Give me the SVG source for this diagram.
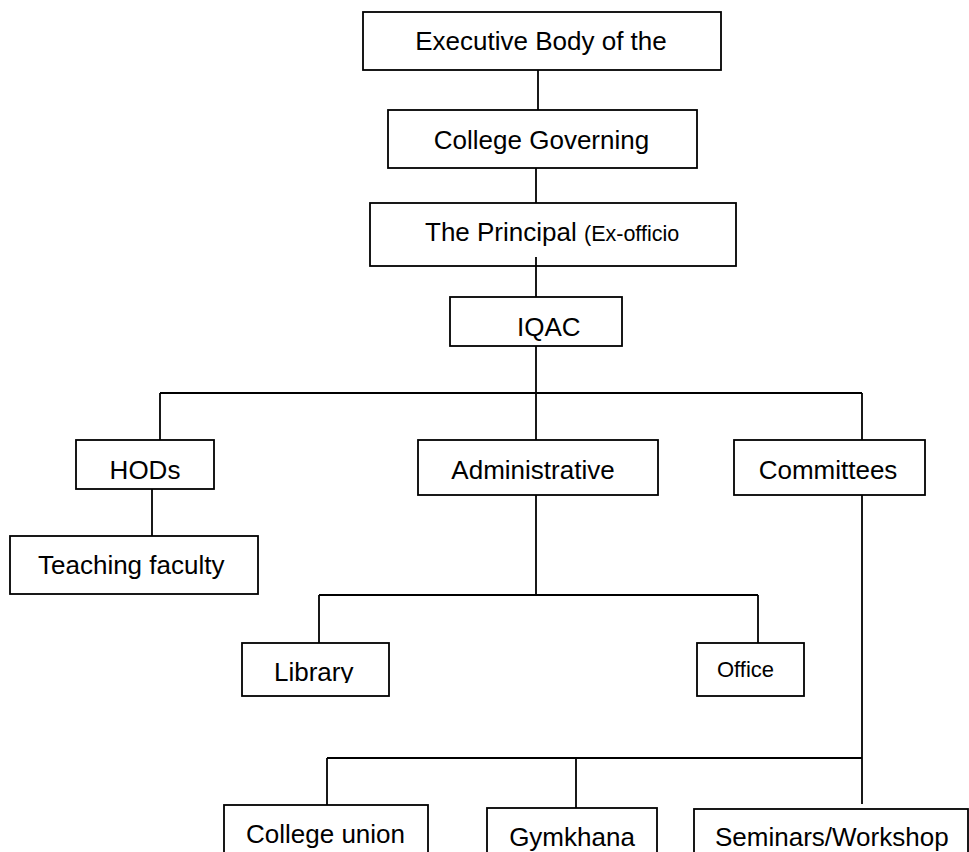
<svg xmlns="http://www.w3.org/2000/svg" width="969" height="852" viewBox="0 0 969 852">
<style>
.box{fill:#fff;stroke:#000;stroke-width:1.8}
.lbl{font-family:"Liberation Sans",Arial,sans-serif;font-size:26px;fill:#000}
.sm{font-size:21.5px}
.of{font-size:22px}
#connectors line{stroke:#000;stroke-width:1.8;fill:none}
</style>
<defs>
<clipPath id="clipLib"><rect x="242" y="643" width="147" height="40"/></clipPath>
</defs>
<rect width="969" height="852" fill="#fff"/>
<g id="connectors">
<line x1="538" y1="70" x2="538" y2="110"/>
<line x1="536" y1="168" x2="536" y2="203"/>
<line x1="536" y1="257" x2="536" y2="297"/>
<line x1="536" y1="346" x2="536" y2="440"/>
<line x1="160" y1="393" x2="862" y2="393"/>
<line x1="160" y1="393" x2="160" y2="440"/>
<line x1="862" y1="393" x2="862" y2="440"/>
<line x1="152" y1="489" x2="152" y2="536"/>
<line x1="536" y1="495" x2="536" y2="595"/>
<line x1="319" y1="595" x2="758" y2="595"/>
<line x1="319" y1="595" x2="319" y2="643"/>
<line x1="758" y1="595" x2="758" y2="643"/>
<line x1="862" y1="495" x2="862" y2="804"/>
<line x1="327" y1="758" x2="862" y2="758"/>
<line x1="327" y1="758" x2="327" y2="805"/>
<line x1="576" y1="758" x2="576" y2="808"/>
</g>
<g id="executive"><rect class="box" x="363" y="12" width="358" height="58"/><text class="lbl" x="541" y="50" text-anchor="middle">Executive Body of the</text></g>
<g id="governing"><rect class="box" x="388" y="110" width="309" height="58"/><text class="lbl" x="541.5" y="149" text-anchor="middle">College Governing</text></g>
<g id="principal"><rect class="box" x="370" y="203" width="366" height="63"/><text class="lbl" x="425" y="241">The Principal <tspan class="sm">(Ex-officio</tspan></text></g>
<line x1="536" y1="257" x2="536" y2="266" stroke="#000" stroke-width="1.8"/>
<g id="iqac"><rect class="box" x="450" y="297" width="172" height="49"/><text class="lbl" x="517" y="336">IQAC</text></g>
<g id="hods"><rect class="box" x="76" y="440" width="138" height="49"/><text class="lbl" x="145" y="479" text-anchor="middle">HODs</text></g>
<g id="teaching"><rect class="box" x="10" y="536" width="248" height="58"/><text class="lbl" x="38" y="574">Teaching faculty</text></g>
<g id="administrative"><rect class="box" x="418" y="440" width="240" height="55"/><text class="lbl" x="533" y="479" text-anchor="middle">Administrative</text></g>
<g id="committees"><rect class="box" x="734" y="440" width="191" height="55"/><text class="lbl" x="828" y="479" text-anchor="middle">Committees</text></g>
<g id="library"><rect class="box" x="242" y="643" width="147" height="53"/><text class="lbl" x="274" y="681" clip-path="url(#clipLib)">Library</text></g>
<g id="office"><rect class="box" x="697" y="643" width="107" height="53"/><text class="lbl of" x="717" y="677">Office</text></g>
<g id="college-union"><rect class="box" x="224" y="805" width="204" height="60"/><text class="lbl" x="246" y="843">College union</text></g>
<g id="gymkhana"><rect class="box" x="487" y="808" width="170" height="60"/><text class="lbl" x="572" y="846" text-anchor="middle">Gymkhana</text></g>
<g id="seminars"><rect class="box" x="694" y="809" width="274" height="60"/><text class="lbl" x="715" y="846">Seminars/Workshop</text></g>
</svg>
